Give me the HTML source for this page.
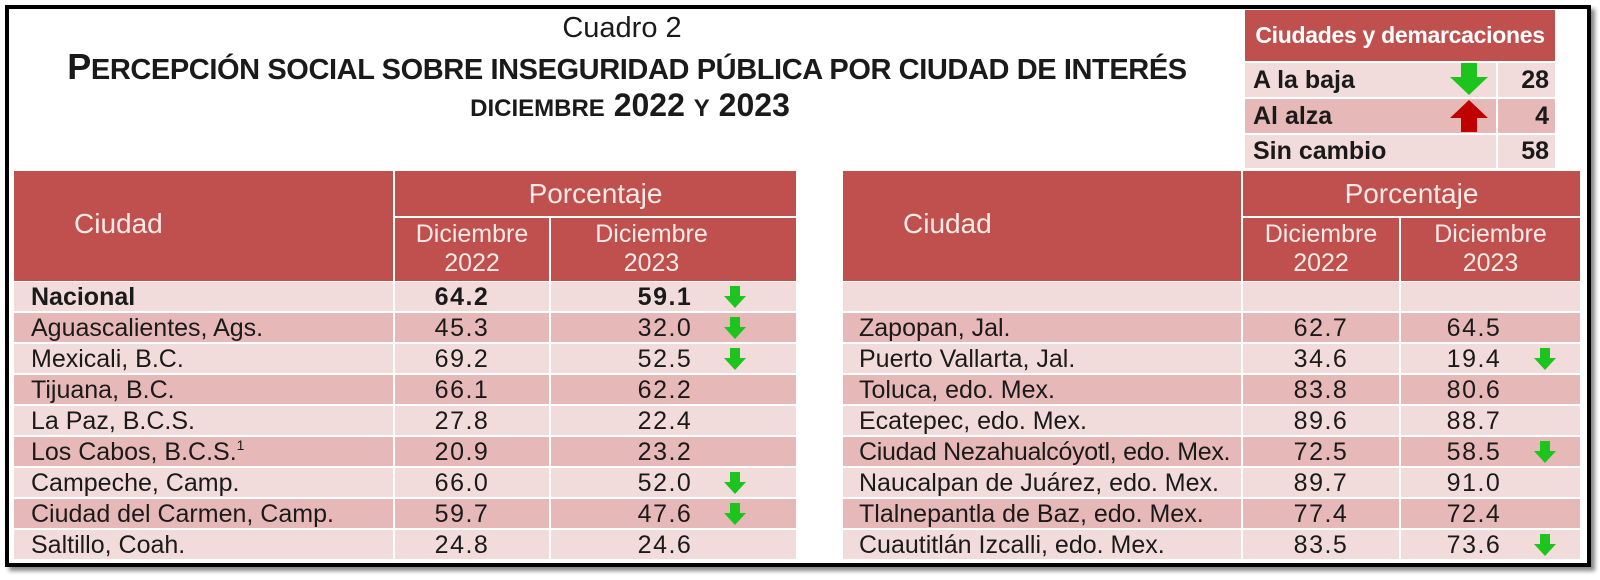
<!DOCTYPE html>
<html><head><meta charset="utf-8">
<style>
*{margin:0;padding:0;box-sizing:border-box}
body{width:1600px;height:580px;background:#fff;position:relative;overflow:hidden;font-family:"Liberation Sans",Arial,sans-serif;color:#1a1a1a}
.frame{position:absolute;left:5px;top:5px;width:1586px;height:562px;border:4px solid #000;box-shadow:4px 4px 4px #888}
.a{position:absolute}
.h{position:absolute;background:#c0504d;color:#fbeae8}
.r{position:absolute;height:29px;font-size:25px;line-height:30px}
.l{background:#f2dcdb}.d{background:#e6b9b8}
.c{position:absolute;top:0;height:29px}
.n{position:absolute;top:0;transform:translateX(-50%);white-space:nowrap;letter-spacing:1.5px}
.ar{position:absolute;top:4px;width:22px;height:22px}
</style></head><body>
<div class="frame"></div>

<div class="a" style="left:522px;top:10px;width:200px;text-align:center;font-size:29px;line-height:36px">Cuadro 2</div>
<div class="a" style="left:0px;top:48px;width:1254px;text-align:center;font-weight:bold;font-size:36px;line-height:38px;letter-spacing:-0.4px;white-space:nowrap">P<span style="font-size:29px">ERCEPCIÓN SOCIAL SOBRE INSEGURIDAD PÚBLICA POR CIUDAD DE INTERÉS</span></div>
<div class="a" style="left:330px;top:86px;width:600px;text-align:center;font-weight:bold;font-size:32px;line-height:38px"><span style="font-size:24px">DICIEMBRE</span> 2022 <span style="font-size:24px">Y</span> 2023</div>

<!-- summary box -->
<div class="h" style="left:1245px;top:10px;width:310px;height:51px;font-weight:bold;color:#fff;font-size:23px;line-height:51px;text-align:center;white-space:nowrap;letter-spacing:-0.3px">Ciudades y demarcaciones</div>
<div class="a l" style="left:1245px;top:63px;width:251px;height:34px"></div>
<div class="a l" style="left:1498px;top:63px;width:57px;height:34px"></div>
<div class="a d" style="left:1245px;top:99px;width:251px;height:34px"></div>
<div class="a d" style="left:1498px;top:99px;width:57px;height:34px"></div>
<div class="a l" style="left:1245px;top:135px;width:251px;height:33px"></div>
<div class="a l" style="left:1498px;top:135px;width:57px;height:33px"></div>
<div class="a" style="left:1253px;top:63px;font-weight:bold;font-size:25px;line-height:34px">A la baja</div>
<div class="a" style="left:1253px;top:99px;font-weight:bold;font-size:25px;line-height:34px">Al alza</div>
<div class="a" style="left:1253px;top:135px;font-weight:bold;font-size:25px;line-height:33px">Sin cambio</div>
<div class="a" style="left:1498px;top:63px;width:51px;text-align:right;font-weight:bold;font-size:25px;line-height:34px">28</div>
<div class="a" style="left:1498px;top:99px;width:51px;text-align:right;font-weight:bold;font-size:25px;line-height:34px">4</div>
<div class="a" style="left:1498px;top:135px;width:51px;text-align:right;font-weight:bold;font-size:25px;line-height:33px">58</div>
<svg class="a" style="left:1450px;top:63px" width="38" height="32" viewBox="0 0 38 32"><polygon points="11,0 27,0 27,14 38,14 19,32 0,14 11,14" fill="#1ec41e"/></svg>
<svg class="a" style="left:1450px;top:100px" width="38" height="32" viewBox="0 0 38 32"><polygon points="19,0 38,18 27,18 27,32 11,32 11,18 0,18" fill="#c00000"/></svg>

<!-- left header -->
<div class="h" style="left:14px;top:171px;width:379px;height:110px"></div>
<div class="a" style="left:74px;top:208px;color:#fbeae8;font-size:28px">Ciudad</div>
<div class="h" style="left:395px;top:171px;width:401px;height:45px;font-size:28px;line-height:45px;text-align:center">Porcentaje</div>
<div class="h" style="left:395px;top:218px;width:154px;height:63px;font-size:25px;line-height:29px;text-align:center;padding-top:2px">Diciembre<br>2022</div>
<div class="h" style="left:551px;top:218px;width:245px;height:63px;font-size:25px;line-height:29px;text-align:center;padding-top:2px;padding-right:44px">Diciembre<br>2023</div>

<!-- right header -->
<div class="h" style="left:843px;top:171px;width:398px;height:110px"></div>
<div class="a" style="left:903px;top:208px;color:#fbeae8;font-size:28px">Ciudad</div>
<div class="h" style="left:1243px;top:171px;width:337px;height:45px;font-size:28px;line-height:45px;text-align:center">Porcentaje</div>
<div class="h" style="left:1243px;top:218px;width:156px;height:63px;font-size:25px;line-height:29px;text-align:center;padding-top:2px">Diciembre<br>2022</div>
<div class="h" style="left:1401px;top:218px;width:179px;height:63px;font-size:25px;line-height:29px;text-align:center;padding-top:2px">Diciembre<br>2023</div>

<!-- left rows -->
<div class="r" style="left:0;top:282px;width:800px"><div class="c l" style="left:14px;width:379px"></div><div class="c l" style="left:395px;width:154px"></div><div class="c l" style="left:551px;width:245px"></div><span class="a" style="left:31px;font-weight:bold">Nacional</span><span class="n" style="left:462px;font-weight:bold">64.2</span><span class="n" style="left:665px;font-weight:bold">59.1</span><svg class="ar" style="left:724px" viewBox="0 0 22 22"><polygon points="6,0 16,0 16,10 22,10 11,22 0,10 6,10" fill="#1ec41e"/></svg></div>
<div class="r" style="left:0;top:313px;width:800px"><div class="c d" style="left:14px;width:379px"></div><div class="c d" style="left:395px;width:154px"></div><div class="c d" style="left:551px;width:245px"></div><span class="a" style="left:31px">Aguascalientes, Ags.</span><span class="n" style="left:462px">45.3</span><span class="n" style="left:665px">32.0</span><svg class="ar" style="left:724px" viewBox="0 0 22 22"><polygon points="6,0 16,0 16,10 22,10 11,22 0,10 6,10" fill="#1ec41e"/></svg></div>
<div class="r" style="left:0;top:344px;width:800px"><div class="c l" style="left:14px;width:379px"></div><div class="c l" style="left:395px;width:154px"></div><div class="c l" style="left:551px;width:245px"></div><span class="a" style="left:31px">Mexicali, B.C.</span><span class="n" style="left:462px">69.2</span><span class="n" style="left:665px">52.5</span><svg class="ar" style="left:724px" viewBox="0 0 22 22"><polygon points="6,0 16,0 16,10 22,10 11,22 0,10 6,10" fill="#1ec41e"/></svg></div>
<div class="r" style="left:0;top:375px;width:800px"><div class="c d" style="left:14px;width:379px"></div><div class="c d" style="left:395px;width:154px"></div><div class="c d" style="left:551px;width:245px"></div><span class="a" style="left:31px">Tijuana, B.C.</span><span class="n" style="left:462px">66.1</span><span class="n" style="left:665px">62.2</span></div>
<div class="r" style="left:0;top:406px;width:800px"><div class="c l" style="left:14px;width:379px"></div><div class="c l" style="left:395px;width:154px"></div><div class="c l" style="left:551px;width:245px"></div><span class="a" style="left:31px">La Paz, B.C.S.</span><span class="n" style="left:462px">27.8</span><span class="n" style="left:665px">22.4</span></div>
<div class="r" style="left:0;top:437px;width:800px"><div class="c d" style="left:14px;width:379px"></div><div class="c d" style="left:395px;width:154px"></div><div class="c d" style="left:551px;width:245px"></div><span class="a" style="left:31px">Los Cabos, B.C.S.<sup style="font-size:14px;vertical-align:10px;line-height:0">1</sup></span><span class="n" style="left:462px">20.9</span><span class="n" style="left:665px">23.2</span></div>
<div class="r" style="left:0;top:468px;width:800px"><div class="c l" style="left:14px;width:379px"></div><div class="c l" style="left:395px;width:154px"></div><div class="c l" style="left:551px;width:245px"></div><span class="a" style="left:31px">Campeche, Camp.</span><span class="n" style="left:462px">66.0</span><span class="n" style="left:665px">52.0</span><svg class="ar" style="left:724px" viewBox="0 0 22 22"><polygon points="6,0 16,0 16,10 22,10 11,22 0,10 6,10" fill="#1ec41e"/></svg></div>
<div class="r" style="left:0;top:499px;width:800px"><div class="c d" style="left:14px;width:379px"></div><div class="c d" style="left:395px;width:154px"></div><div class="c d" style="left:551px;width:245px"></div><span class="a" style="left:31px">Ciudad del Carmen, Camp.</span><span class="n" style="left:462px">59.7</span><span class="n" style="left:665px">47.6</span><svg class="ar" style="left:724px" viewBox="0 0 22 22"><polygon points="6,0 16,0 16,10 22,10 11,22 0,10 6,10" fill="#1ec41e"/></svg></div>
<div class="r" style="left:0;top:530px;width:800px"><div class="c l" style="left:14px;width:379px"></div><div class="c l" style="left:395px;width:154px"></div><div class="c l" style="left:551px;width:245px"></div><span class="a" style="left:31px">Saltillo, Coah.</span><span class="n" style="left:462px">24.8</span><span class="n" style="left:665px">24.6</span></div>

<!-- right rows -->
<div class="r" style="left:0;top:282px;width:1600px"><div class="c l" style="left:843px;width:398px"></div><div class="c l" style="left:1243px;width:156px"></div><div class="c l" style="left:1401px;width:179px"></div></div>
<div class="r" style="left:0;top:313px;width:1600px"><div class="c d" style="left:843px;width:398px"></div><div class="c d" style="left:1243px;width:156px"></div><div class="c d" style="left:1401px;width:179px"></div><span class="a" style="left:859px">Zapopan, Jal.</span><span class="n" style="left:1321px">62.7</span><span class="n" style="left:1474px">64.5</span></div>
<div class="r" style="left:0;top:344px;width:1600px"><div class="c l" style="left:843px;width:398px"></div><div class="c l" style="left:1243px;width:156px"></div><div class="c l" style="left:1401px;width:179px"></div><span class="a" style="left:859px">Puerto Vallarta, Jal.</span><span class="n" style="left:1321px">34.6</span><span class="n" style="left:1474px">19.4</span><svg class="ar" style="left:1534px" viewBox="0 0 22 22"><polygon points="6,0 16,0 16,10 22,10 11,22 0,10 6,10" fill="#1ec41e"/></svg></div>
<div class="r" style="left:0;top:375px;width:1600px"><div class="c d" style="left:843px;width:398px"></div><div class="c d" style="left:1243px;width:156px"></div><div class="c d" style="left:1401px;width:179px"></div><span class="a" style="left:859px">Toluca, edo. Mex.</span><span class="n" style="left:1321px">83.8</span><span class="n" style="left:1474px">80.6</span></div>
<div class="r" style="left:0;top:406px;width:1600px"><div class="c l" style="left:843px;width:398px"></div><div class="c l" style="left:1243px;width:156px"></div><div class="c l" style="left:1401px;width:179px"></div><span class="a" style="left:859px">Ecatepec, edo. Mex.</span><span class="n" style="left:1321px">89.6</span><span class="n" style="left:1474px">88.7</span></div>
<div class="r" style="left:0;top:437px;width:1600px"><div class="c d" style="left:843px;width:398px"></div><div class="c d" style="left:1243px;width:156px"></div><div class="c d" style="left:1401px;width:179px"></div><span class="a" style="left:859px;white-space:nowrap;letter-spacing:-0.3px">Ciudad Nezahualcóyotl, edo. Mex.</span><span class="n" style="left:1321px">72.5</span><span class="n" style="left:1474px">58.5</span><svg class="ar" style="left:1534px" viewBox="0 0 22 22"><polygon points="6,0 16,0 16,10 22,10 11,22 0,10 6,10" fill="#1ec41e"/></svg></div>
<div class="r" style="left:0;top:468px;width:1600px"><div class="c l" style="left:843px;width:398px"></div><div class="c l" style="left:1243px;width:156px"></div><div class="c l" style="left:1401px;width:179px"></div><span class="a" style="left:859px">Naucalpan de Juárez, edo. Mex.</span><span class="n" style="left:1321px">89.7</span><span class="n" style="left:1474px">91.0</span></div>
<div class="r" style="left:0;top:499px;width:1600px"><div class="c d" style="left:843px;width:398px"></div><div class="c d" style="left:1243px;width:156px"></div><div class="c d" style="left:1401px;width:179px"></div><span class="a" style="left:859px">Tlalnepantla de Baz, edo. Mex.</span><span class="n" style="left:1321px">77.4</span><span class="n" style="left:1474px">72.4</span></div>
<div class="r" style="left:0;top:530px;width:1600px"><div class="c l" style="left:843px;width:398px"></div><div class="c l" style="left:1243px;width:156px"></div><div class="c l" style="left:1401px;width:179px"></div><span class="a" style="left:859px">Cuautitlán Izcalli, edo. Mex.</span><span class="n" style="left:1321px">83.5</span><span class="n" style="left:1474px">73.6</span><svg class="ar" style="left:1534px" viewBox="0 0 22 22"><polygon points="6,0 16,0 16,10 22,10 11,22 0,10 6,10" fill="#1ec41e"/></svg></div>
</body></html>
